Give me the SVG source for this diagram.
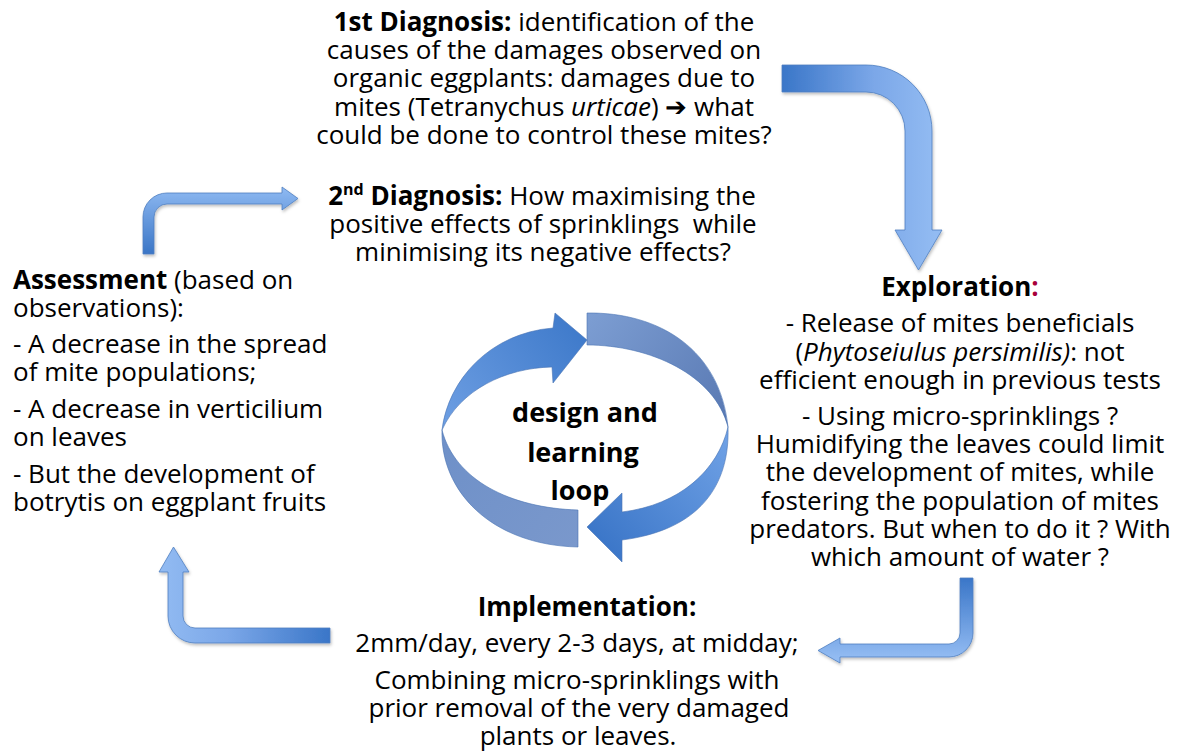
<svg xmlns="http://www.w3.org/2000/svg" width="1181" height="751" viewBox="0 0 1181 751">
<style>
.t{font-family:"Open Sans","Liberation Sans",sans-serif;font-size:26px;fill:#000}
.c{text-anchor:middle}
.b{font-weight:bold}
.i{font-style:italic}
.loop{font-family:"Open Sans","Liberation Sans",sans-serif;font-size:27px;font-weight:bold;text-anchor:middle;fill:#000}
.ba{stroke:#4f7fc0;stroke-width:0.8;filter:url(#sh)}
.ring{stroke:#4a74b4;stroke-width:0.6}
</style>
<defs>
<filter id="sh" x="-10%" y="-10%" width="130%" height="130%">
<feDropShadow dx="1" dy="2" stdDeviation="1.5" flood-color="#000" flood-opacity="0.25"/>
</filter>
<linearGradient id="gTR" gradientUnits="userSpaceOnUse" x1="782" y1="0" x2="935" y2="0">
<stop offset="0" stop-color="#3a76c8"/><stop offset="0.6" stop-color="#7ba7e8"/><stop offset="1" stop-color="#92bbf2"/>
</linearGradient>
<linearGradient id="gTL" gradientUnits="userSpaceOnUse" x1="0" y1="187" x2="0" y2="254">
<stop offset="0" stop-color="#8fbaf2"/><stop offset="1" stop-color="#3a75c6"/>
</linearGradient>
<linearGradient id="gBL" gradientUnits="userSpaceOnUse" x1="160" y1="0" x2="330" y2="0">
<stop offset="0" stop-color="#92bbf2"/><stop offset="0.4" stop-color="#7ba7e8"/><stop offset="1" stop-color="#3a76c8"/>
</linearGradient>
<linearGradient id="gBR" gradientUnits="userSpaceOnUse" x1="0" y1="578" x2="0" y2="657">
<stop offset="0" stop-color="#3a76c8"/><stop offset="1" stop-color="#92bbf2"/>
</linearGradient>
<linearGradient id="gA1" gradientUnits="userSpaceOnUse" x1="442" y1="430" x2="587" y2="320">
<stop offset="0" stop-color="#6e9fe3"/><stop offset="1" stop-color="#3c78c9"/>
</linearGradient>
<linearGradient id="gA2" gradientUnits="userSpaceOnUse" x1="442" y1="430" x2="578" y2="547">
<stop offset="0" stop-color="#6e90c8"/><stop offset="1" stop-color="#7a98cc"/>
</linearGradient>
<linearGradient id="gA3" gradientUnits="userSpaceOnUse" x1="587" y1="320" x2="728" y2="427">
<stop offset="0" stop-color="#7c9dd2"/><stop offset="1" stop-color="#5878b2"/>
</linearGradient>
<linearGradient id="gA4" gradientUnits="userSpaceOnUse" x1="728" y1="430" x2="600" y2="545">
<stop offset="0" stop-color="#70a2e6"/><stop offset="1" stop-color="#3b76c8"/>
</linearGradient>
</defs>

<g id="connectors">
<path id="arrow-diag1-exploration" class="ba" fill="url(#gTR)" d="M782,65 L866,65 A66,66 0 0 1 932,131 L932,230 L942,230 L918.5,270 L895,230 L905,230 L905,131 A39,39 0 0 0 866,92 L782,92 Z"/>
<path id="arrow-assessment-diag2" class="ba" fill="url(#gTL)" d="M143,254 L143,217 A24,24 0 0 1 167,193 L282,193 L282,187 L298,198.5 L282,210 L282,204 L167,204 A13,13 0 0 0 154,217 L154,254 Z"/>
<path id="arrow-implementation-assessment" class="ba" fill="url(#gBL)" d="M330,628 L195,628 A12,12 0 0 1 183,616 L183,572 L189,572 L173.5,547 L159,572 L168,572 L168,616 A27,27 0 0 0 195,643 L330,643 Z"/>
<path id="arrow-exploration-implementation" class="ba" fill="url(#gBR)" d="M960,578 L973,578 L973,633 A24,24 0 0 1 949,657 L840,657 L840,663 L818,650.5 L840,638 L840,644 L949,644 A11,11 0 0 0 960,633 Z"/>
</g>

<g id="loop">
<path class="ring" fill="url(#gA2)" d="M442,430 C440,490 490,545 578,547 L578,510 C510,508 455,480 442,430 Z"/>
<path class="ring" fill="url(#gA3)" d="M587,313 C660,312 720,350 728,427 C715,375 650,345 587,345 Z"/>
<path class="ring" fill="url(#gA1)" d="M442,430 C448,380 490,333 553,328 L555,313 L587,340 L553,383 L552,367 C505,368 460,390 442,430 Z"/>
<path class="ring" fill="url(#gA4)" d="M728,427 C730,485 700,530 622,540 L622,562 L587,527 L622,493 L622,512 C680,505 718,470 728,427 Z"/>
<text class="loop"><tspan x="585" y="422">design and</tspan><tspan x="583" y="462">learning</tspan><tspan x="580" y="500">loop</tspan></text>
</g>

<g id="diagnosis1">
<text class="t c"><tspan x="544" y="30.5"><tspan class="b">1st Diagnosis:</tspan> identification of the</tspan><tspan x="544" y="58.8">causes of the damages observed on</tspan><tspan x="544" y="87.2">organic eggplants: damages due to</tspan><tspan x="544" y="115.5">mites (Tetranychus <tspan class="i">urticae</tspan>) ➔ what</tspan><tspan x="544" y="143.8">could be done to control these mites?</tspan></text>
</g>

<g id="diagnosis2">
<text class="t c"><tspan x="542" y="205"><tspan class="b">2</tspan><tspan class="b" font-size="16" dy="-10">nd</tspan><tspan class="b" dy="10"> Diagnosis:</tspan> How maximising the</tspan><tspan x="543" y="233">positive effects of sprinklings&#160; while</tspan><tspan x="543" y="261">minimising its negative effects?</tspan></text>
</g>

<g id="assessment">
<text class="t"><tspan x="13" y="289"><tspan class="b">Assessment</tspan> (based on</tspan><tspan x="13" y="317">observations):</tspan><tspan x="13" y="353">- A decrease in the spread</tspan><tspan x="13" y="381">of mite populations;</tspan><tspan x="13" y="418">- A decrease in verticilium</tspan><tspan x="13" y="446">on leaves</tspan><tspan x="13" y="483">- But the development of</tspan><tspan x="13" y="511">botrytis on eggplant fruits</tspan></text>
</g>

<g id="exploration">
<text class="t c"><tspan x="960" y="296"><tspan class="b">Exploration</tspan><tspan class="b" fill="#a8003a">:</tspan></tspan><tspan x="960" y="332">- Release of mites beneficials</tspan><tspan x="960" y="361">(<tspan class="i">Phytoseiulus persimilis)</tspan>: not</tspan><tspan x="960" y="389">efficient enough in previous tests</tspan><tspan x="960" y="425">- Using micro-sprinklings ?</tspan><tspan x="960" y="453">Humidifying the leaves could limit</tspan><tspan x="960" y="481">the development of mites, while</tspan><tspan x="960" y="510">fostering the population of mites</tspan><tspan x="960" y="538">predators. But when to do it ? With</tspan><tspan x="960" y="566">which amount of water ?</tspan></text>
</g>

<g id="implementation">
<text class="t c"><tspan class="b" x="587" y="616">Implementation:</tspan><tspan x="577" y="652">2mm/day, every 2-3 days, at midday;</tspan><tspan x="577" y="689">Combining micro-sprinklings with</tspan><tspan x="579" y="717">prior removal of the very damaged</tspan><tspan x="578" y="745">plants or leaves.</tspan></text>
</g>
</svg>
